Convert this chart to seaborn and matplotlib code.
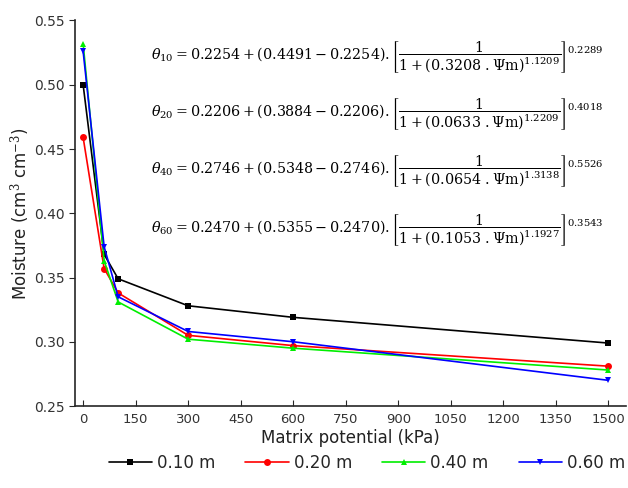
import numpy as np
import pandas as pd
import matplotlib
matplotlib.use('Agg')
import matplotlib.pyplot as plt
import seaborn as sns

# =============================================================================
# DATOS
# =============================================================================
potencial = [0, 60, 100, 300, 600, 1500]  # kPa

hum_010 = [0.500, 0.368, 0.349, 0.328, 0.319, 0.299]
hum_020 = [0.459, 0.357, 0.338, 0.305, 0.297, 0.281]
hum_040 = [0.532, 0.363, 0.331, 0.302, 0.295, 0.278]
hum_060 = [0.526, 0.374, 0.335, 0.308, 0.300, 0.270]

profundidades = ['0.10 m', '0.20 m', '0.40 m', '0.60 m']
colores = ['black', 'red', '#00ee00', 'blue']
marcadores = ['s', 'o', '^', 'v']

ecuaciones = [
    r'$\theta_{10} = 0.2254 + (0.4491 - 0.2254).\left[\dfrac{1}{1 + (0.3208\ .\Psi\mathrm{m})^{1.1209}}\right]^{0.2289}$',
    r'$\theta_{20} = 0.2206 + (0.3884 - 0.2206).\left[\dfrac{1}{1 + (0.0633\ .\Psi\mathrm{m})^{1.2209}}\right]^{0.4018}$',
    r'$\theta_{40} = 0.2746 + (0.5348 - 0.2746).\left[\dfrac{1}{1 + (0.0654\ .\Psi\mathrm{m})^{1.3138}}\right]^{0.5526}$',
    r'$\theta_{60} = 0.2470 + (0.5355 - 0.2470).\left[\dfrac{1}{1 + (0.1053\ .\Psi\mathrm{m})^{1.1927}}\right]^{0.3543}$',
]

df = pd.DataFrame({
    'Potencial': potencial * 4,
    'Humedad': hum_010 + hum_020 + hum_040 + hum_060,
    'Profundidad': np.repeat(profundidades, len(potencial)),
})

# =============================================================================
# FIGURA
# =============================================================================
sns.set_style('ticks')
plt.rcParams['font.family'] = ['DejaVu Sans']
plt.rcParams['mathtext.fontset'] = 'dejavuserif'

fig = plt.figure(figsize=(6.28, 4.88), dpi=100)
ax = fig.add_axes([0.119, 0.168, 0.878, 0.790])

sns.lineplot(
    data=df,
    x='Potencial',
    y='Humedad',
    hue='Profundidad',
    style='Profundidad',
    palette=colores,
    markers=marcadores,
    dashes=False,
    markersize=5,
    markeredgewidth=0,
    linewidth=1.2,
    ax=ax
)

ax.set_xlim(-24, 1551)
ax.set_ylim(0.25, 0.55)
ax.set_xticks(np.arange(0, 1501, 150))
ax.set_yticks(np.arange(0.25, 0.551, 0.05))
ax.yaxis.set_major_formatter(matplotlib.ticker.FormatStrFormatter('%.2f'))

ax.tick_params(axis='x', direction='in', length=4, labelsize=9.5, pad=5)
ax.tick_params(axis='y', direction='out', length=4, labelsize=10)
for lab in ax.get_xticklabels() + ax.get_yticklabels():
    lab.set_color('#333333')

sns.despine(ax=ax)
ax.spines['left'].set_linewidth(1.2)
ax.spines['bottom'].set_linewidth(1.2)

ax.set_xlabel('Matrix potential (kPa)', fontsize=12, color='#222222', labelpad=2)
ax.set_ylabel('Moisture (cm$^3$ cm$^{-3}$)', fontsize=12, color='#222222', labelpad=1)

# ecuaciones
y_ecu = [0.905, 0.757, 0.610, 0.457]
for texto, yy in zip(ecuaciones, y_ecu):
    ax.text(0.138, yy, texto, transform=ax.transAxes, fontsize=10.3,
            va='center', ha='left', color='black')

ax.legend(
    loc='center',
    bbox_to_anchor=(0.53, -0.148),
    ncol=4,
    frameon=False,
    fontsize=12,
    handlelength=2.6,
    columnspacing=1.8,
    handletextpad=0.3,
    title=None
)

plt.savefig('out.png', dpi=100)
